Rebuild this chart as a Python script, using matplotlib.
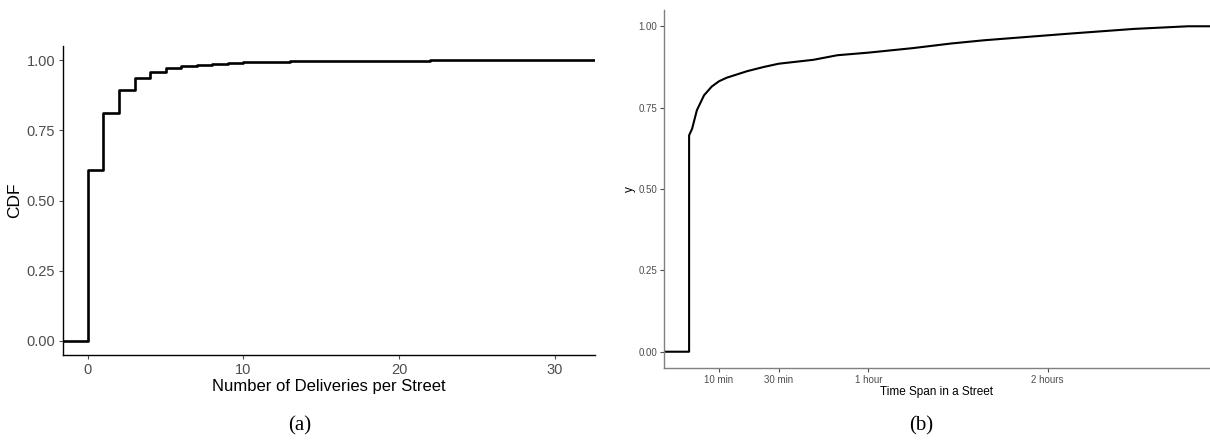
import matplotlib.pyplot as plt

# (a) numero de entregas por rua -> CDF (degraus)
deliveries = [0, 1, 2, 3, 4, 5, 6, 7, 8, 9, 10, 11, 12, 13, 15, 17, 19, 22, 26, 31]
cdf_deliveries = [0.607, 0.810, 0.893, 0.935, 0.958, 0.970, 0.978, 0.983, 0.987,
                  0.990, 0.992, 0.9935, 0.9948, 0.9958, 0.9968, 0.9976, 0.9983,
                  0.9990, 0.9995, 1.000]

# (b) tempo na rua em minutos
span_min = [0, 1, 2.6, 5, 7.6, 10, 12.6, 16, 19.4, 25, 30, 41.6, 49.6, 60, 75,
            87.6, 98.7, 126.7, 149, 167]
cdf_span = [0.665, 0.685, 0.742, 0.788, 0.815, 0.831, 0.842, 0.852, 0.862, 0.875,
            0.885, 0.897, 0.911, 0.919, 0.933, 0.947, 0.957, 0.977, 0.992, 1.000]

span_ticks = [10, 30, 60, 120]
span_labels = ['10 min', '30 min', '1 hour', '2 hours']
y_ticks = [0, 0.25, 0.5, 0.75, 1.0]
y_labels = ['0.00', '0.25', '0.50', '0.75', '1.00']

plt.rcParams['font.family'] = ['Liberation Sans', 'DejaVu Sans']
W, H = 1210, 447
fig = plt.figure(figsize=(W / 100, H / 100), dpi=100)

def box(l, t, r, b):
    return [l / W, 1 - b / H, (r - l) / W, (b - t) / H]

def estilo(ax, spine_col, tick_size, pad):
    for s in ['top', 'right']:
        ax.spines[s].set_visible(False)
    for s in ['left', 'bottom']:
        ax.spines[s].set_color(spine_col)
        ax.spines[s].set_linewidth(1.0)
    ax.tick_params(colors='#4d4d4d', labelsize=tick_size, length=3, width=0.8, pad=pad)

# painel (a)
ax1 = fig.add_axes(box(63, 46, 595, 355))
xmin1, xmax1 = -1.6, 32.6
xs = [xmin1] + deliveries + [xmax1]
ys = [0] + cdf_deliveries + [cdf_deliveries[-1]]
ax1.step(xs, ys, where='post', color='black', lw=1.9)
ax1.set_xlim(xmin1, xmax1)
ax1.set_ylim(-0.05, 1.05)
ax1.set_xticks([0, 10, 20, 30])
ax1.set_yticks(y_ticks)
ax1.set_yticklabels(y_labels)
estilo(ax1, 'black', 10.5, 2.5)
ax1.set_xlabel('Number of Deliveries per Street', fontsize=12, labelpad=2)
ax1.set_ylabel('CDF', fontsize=12.5, labelpad=3)

# painel (b)
ax2 = fig.add_axes(box(664, 10, 1210, 368))
xmin2, xmax2 = -8.4, 174.3
xs2 = [xmin2, span_min[0]] + span_min + [xmax2]
ys2 = [0, 0] + cdf_span + [cdf_span[-1]]
ax2.plot(xs2, ys2, color='black', lw=1.5)
ax2.set_xlim(xmin2, xmax2)
ax2.set_ylim(-0.05, 1.05)
ax2.set_xticks(span_ticks)
ax2.set_xticklabels(span_labels)
ax2.set_yticks(y_ticks)
ax2.set_yticklabels(y_labels)
estilo(ax2, '#808080', 7, 2)
ax2.set_xlabel('Time Span in a Street', fontsize=8.5, labelpad=1)
ax2.set_ylabel('y', fontsize=8.5, labelpad=2)

# legendas (a) e (b)
fig.text(300 / W, 1 - 426 / H, '(a)', ha='center', va='center',
         fontsize=15, family='Liberation Serif')
fig.text(921 / W, 1 - 426 / H, '(b)', ha='center', va='center',
         fontsize=15, family='Liberation Serif')

fig.savefig('out.png', dpi=100)
